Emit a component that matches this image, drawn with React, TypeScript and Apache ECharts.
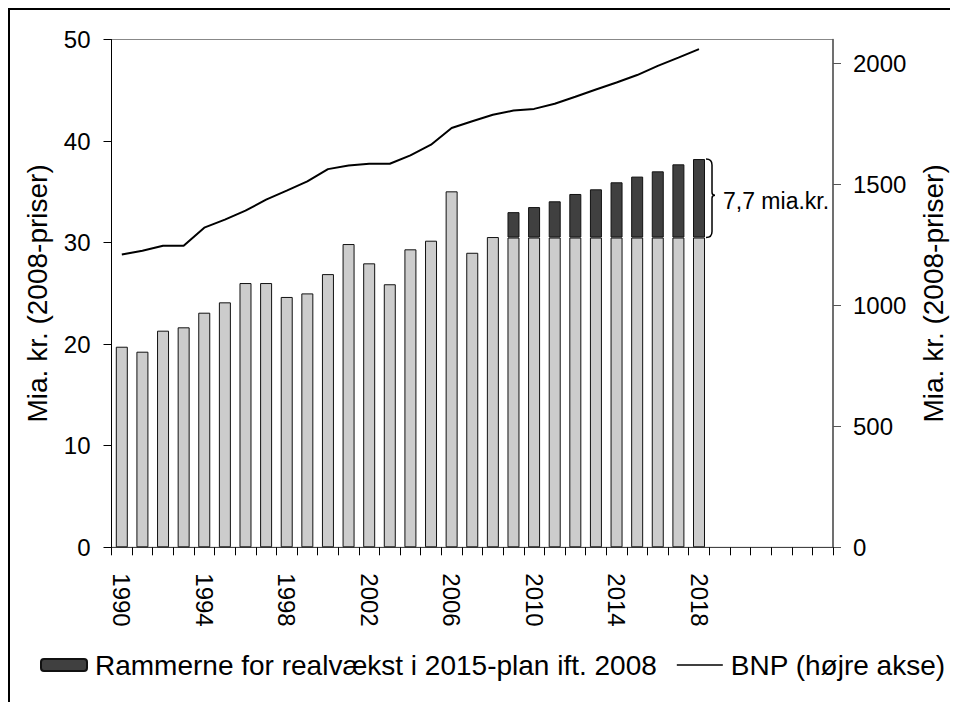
import React, { useEffect, useRef } from "react";
import * as echarts from "echarts";

const years = [
  "1990", "1991", "1992", "1993", "1994", "1995", "1996", "1997", "1998", "1999",
  "2000", "2001", "2002", "2003", "2004", "2005", "2006", "2007", "2008", "2009",
  "2010", "2011", "2012", "2013", "2014", "2015", "2016", "2017", "2018", "2019",
  "2020", "2021", "2022", "2023", "2024",
];
const lastLabelYear = 2018;

// Light grey bars (left axis, bn. DKK, 2008 prices)
const baseValues = [
  19.75, 19.26, 21.33, 21.66, 23.1, 24.12, 26.02, 26.02, 24.65, 25.0,
  26.9, 29.86, 27.96, 25.9, 29.34, 30.19, 35.05, 29.0, 30.55, 30.5,
  30.5, 30.5, 30.5, 30.5, 30.5, 30.5, 30.5, 30.5, 30.5,
];
// Dark grey bars: "Rammerne for realvækst i 2015-plan ift. 2008"
const growthValues = [
  null, null, null, null, null, null, null, null, null, null,
  null, null, null, null, null, null, null, null, null, 2.5,
  3.0, 3.57, 4.29, 4.75, 5.44, 6.0, 6.52, 7.21, 7.73,
];
// BNP (right axis)
const bnpValues = [
  1211, 1226, 1247, 1247, 1322, 1355, 1392, 1438, 1475, 1513,
  1564, 1579, 1586, 1586, 1621, 1665, 1734, 1762, 1789, 1806,
  1813, 1834, 1863, 1893, 1922, 1953, 1991, 2025, 2060,
];

const leftTicks = [0, 10, 20, 30, 40, 50];
const rightTicks = [0, 500, 1000, 1500, 2000];

const growthName = "Rammerne for realvækst i 2015-plan ift. 2008";
const bnpName = "BNP (højre akse)";
const axisName = "Mia. kr. (2008-priser)";
const braceLabel = "7,7 mia.kr.";
// brace annotation: [category index, from value, to value]
const braceData = [[28, 30.5, 38.23]];

const FONT = "'Liberation Sans', Arial, sans-serif";

export default function App() {
  const ref = useRef<HTMLDivElement>(null);

  useEffect(() => {
    if (!ref.current) return;
    const chart = echarts.init(ref.current, undefined, { renderer: "svg" });
    const option: any = {
      animation: false,
      textStyle: { fontFamily: FONT, color: "#000" },
      grid: {
        left: 101.5,
        right: 123,
        top: 29.5,
        bottom: 154.7,
        show: true,
        borderColor: "#888",
        borderWidth: 1,
      },
      legend: {
        left: 25,
        top: 636,
        width: 915,
        itemWidth: 46,
        itemHeight: 12,
        itemGap: 20,
        textStyle: { fontSize: 28, color: "#000", fontFamily: FONT, padding: [0, 0, 0, 3] },
        data: [
          { name: growthName },
          { name: bnpName, icon: "path://M0,0M0,5.25L46,5.25L46,6.75L0,6.75ZM46,12" },
        ],
      },
      xAxis: {
        type: "category",
        data: years,
        boundaryGap: true,
        axisLine: { show: true, lineStyle: { color: "#444", width: 1 } },
        axisTick: { show: true, interval: 0, length: 8, lineStyle: { color: "#000" } },
        axisLabel: {
          interval: 3,
          rotate: -90,
          margin: 26,
          fontSize: 24,
          color: "#000",
          fontFamily: FONT,
          formatter: (v: string) => (Number(v) <= lastLabelYear ? v : ""),
        },
        splitLine: { show: false },
      },
      yAxis: [
        {
          type: "value",
          min: leftTicks[0],
          max: leftTicks[leftTicks.length - 1],
          interval: 10,
          position: "left",
          name: axisName,
          nameLocation: "middle",
          nameRotate: 90,
          nameGap: 60,
          nameTextStyle: { fontSize: 28, color: "#000", fontFamily: FONT },
          axisLine: { show: true, lineStyle: { color: "#000", width: 1 } },
          axisTick: { show: true, length: 8, lineStyle: { color: "#000" } },
          axisLabel: { fontSize: 24, color: "#000", margin: 21, fontFamily: FONT },
          splitLine: { show: false },
        },
        {
          type: "value",
          min: 0,
          max: 2100,
          interval: 500,
          position: "right",
          name: axisName,
          nameLocation: "middle",
          nameRotate: 90,
          nameGap: 86,
          nameTextStyle: { fontSize: 28, color: "#000", fontFamily: FONT },
          axisLine: { show: true, lineStyle: { color: "#555", width: 1.5 } },
          axisTick: { show: true, length: 8, lineStyle: { color: "#555" }, customValues: rightTicks },
          axisLabel: {
            fontSize: 24,
            color: "#000",
            margin: 20,
            fontFamily: FONT,
            customValues: rightTicks,
            formatter: (v: number) => String(v),
          },
          splitLine: { show: false },
        },
      ],
      series: [
        {
          name: "Basis",
          type: "bar",
          stack: "a",
          barWidth: 12,
          data: baseValues,
          itemStyle: { color: "#cccccc", borderColor: "#111", borderWidth: 1 },
        },
        {
          name: growthName,
          type: "bar",
          stack: "a",
          barWidth: 12,
          data: growthValues,
          itemStyle: { color: "#404040", borderColor: "#111", borderWidth: 1 },
        },
        {
          name: bnpName,
          type: "line",
          yAxisIndex: 1,
          data: bnpValues,
          symbol: "none",
          color: "#000",
          lineStyle: { color: "#000", width: 2 },
          z: 5,
        },
        {
          name: "brace",
          type: "custom",
          silent: true,
          clip: false,
          z: 6,
          encode: { x: 0, y: [1, 2] },
          data: braceData,
          renderItem: (params: any, api: any) => {
            const top = api.coord([api.value(0), api.value(2)]);
            const bot = api.coord([api.value(0), api.value(1)]);
            const xr = top[0] + 6;
            const x1 = xr + 1;
            const xv = xr + 7;
            const xc = xr + 10;
            const yt = top[1];
            const yb = bot[1];
            const ym = (yt + yb) / 2 - 3;
            const d =
              `M${x1},${yt} Q${xv},${yt} ${xv},${yt + 6} L${xv},${ym - 3} ` +
              `Q${xv},${ym} ${xc},${ym} Q${xv},${ym} ${xv},${ym + 3} ` +
              `L${xv},${yb - 6} Q${xv},${yb} ${x1},${yb}`;
            return {
              type: "group",
              children: [
                {
                  type: "path",
                  shape: { pathData: d },
                  style: { stroke: "#000", fill: "none", lineWidth: 1.5 },
                },
                {
                  type: "text",
                  style: {
                    x: xc + 8,
                    y: ym + 6,
                    text: braceLabel,
                    fill: "#000",
                    font: `23px ${FONT}`,
                    textAlign: "left",
                    textVerticalAlign: "middle",
                  },
                },
              ],
            };
          },
        },
      ],
    };
    chart.setOption(option);
    return () => chart.dispose();
  }, []);

  return (
    <div
      style={{
        width: 950,
        height: 694,
        boxSizing: "border-box",
        borderTop: "2px solid #000",
        borderLeft: "2px solid #000",
        borderRight: "2px solid #000",
      }}
    >
      <div ref={ref} style={{ width: 946, height: 692 }} />
    </div>
  );
}
